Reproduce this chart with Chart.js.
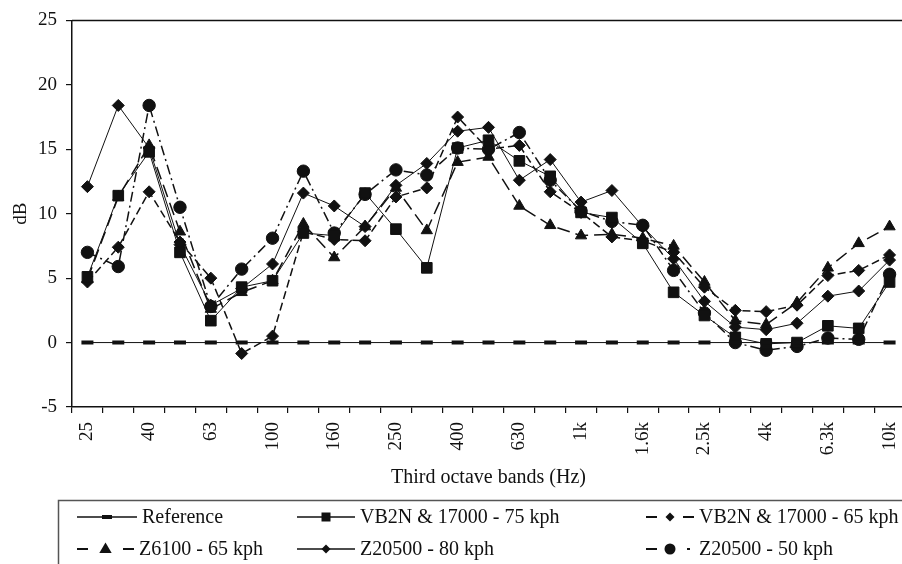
<!DOCTYPE html>
<html>
<head>
<meta charset="utf-8">
<script src="https://cdn.jsdelivr.net/npm/chart.js@4/dist/chart.umd.min.js"></script>
<style>
html,body{margin:0;padding:0;background:#fff;overflow:hidden;width:902px;height:564px;}
canvas{display:block;}
</style>
</head>
<body>
<canvas id="c" width="915" height="564"></canvas>
<script>
// ---- data ----
const bands = ['25','31.5','40','50','63','80','100','125','160','200','250','315','400','500','630','800','1k','1.25k','1.6k','2k','2.5k','3.15k','4k','5k','6.3k','8k','10k'];
const tickLabels = ['25','','40','','63','','100','','160','','250','','400','','630','','1k','','1.6k','','2.5k','','4k','','6.3k','','10k'];
const yTicks = [-5, 0, 5, 10, 15, 20, 25];

const seriesNames = ['Reference','VB2N & 17000 - 75 kph','VB2N & 17000 - 65 kph','Z6100 - 65 kph','Z20500 - 80 kph','Z20500 - 50 kph'];

const reference = [0,0,0,0,0,0,0,0,0,0,0,0,0,0,0,0,0,0,0,0,0,0,0,0,0,0,0];
const vb2n75 = [5.1,11.4,14.8,7.0,1.7,4.3,4.8,8.5,8.3,11.6,8.8,5.8,15.1,15.7,14.1,12.9,10.1,9.7,7.7,3.9,2.1,0.4,-0.1,0.0,1.3,1.1,4.7];
const vb2n65 = [4.7,7.4,11.7,7.8,5.0,-0.85,0.5,8.6,8.0,7.9,11.3,12.0,17.5,15.0,15.3,11.7,10.1,8.2,7.9,7.0,4.3,2.5,2.4,2.9,5.2,5.6,6.8];
const z6100_65 = [4.9,11.3,15.3,8.6,2.6,3.9,4.8,9.2,6.6,9.0,12.0,8.7,14.0,14.4,10.6,9.1,8.3,8.4,8.1,7.5,4.7,1.7,1.4,3.1,5.8,7.7,9.0];
const z20500_80 = [12.1,18.4,15.1,7.6,2.9,4.2,6.1,11.6,10.6,9.0,12.2,13.9,16.4,16.7,12.6,14.2,10.9,11.8,9.0,6.5,3.2,1.2,1.0,1.5,3.6,4.0,6.4];
const z20500_50 = [7.0,5.9,18.4,10.5,2.8,5.7,8.1,13.3,8.5,11.5,13.4,13.0,15.1,15.0,16.3,12.6,10.2,9.4,9.1,5.6,2.3,0.0,-0.6,-0.3,0.35,0.25,5.3];

// ---- styles ----
const FONT = "'Liberation Serif','Times New Roman',serif";
const INK = '#111';

function ds(label, data, style, radius, width, dash, ptBorder, legendKind) {
  return {
    label, data,
    borderColor: INK, backgroundColor: INK,
    borderWidth: width, borderDash: dash,
    pointStyle: style, pointRadius: radius, pointHoverRadius: radius,
    pointBackgroundColor: INK, pointBorderColor: INK, pointBorderWidth: ptBorder,
    tension: 0, fill: false,
    legendKind
  };
}

const datasets = [
  ds(seriesNames[0], reference, 'line', 6, 1, [], 4, 'solid'),
  ds(seriesNames[1], vb2n75, 'rect', 7.5, 1, [], 1, 'solid'),
  ds(seriesNames[2], vb2n65, 'rectRot', 6, 1.5, [8,4], 1, 'dash'),
  ds(seriesNames[3], z6100_65, 'triangle', 6.5, 1.5, [13,6], 1, 'dash'),
  ds(seriesNames[4], z20500_80, 'rectRot', 6, 1, [], 1, 'solid'),
  ds(seriesNames[5], z20500_50, 'circle', 6.2, 1.5, [10,4,2,4], 1, 'dashdot')
];

function drawMarker(ctx, style, x, y, r) {
  ctx.beginPath();
  if (style === 'rect') {
    ctx.rect(x - r, y - r, 2 * r, 2 * r); ctx.fill();
  } else if (style === 'rectRot') {
    ctx.moveTo(x - r, y); ctx.lineTo(x, y - r); ctx.lineTo(x + r, y); ctx.lineTo(x, y + r); ctx.closePath(); ctx.fill();
  } else if (style === 'triangle') {
    ctx.moveTo(x, y - r); ctx.lineTo(x + r * 0.95, y + r * 0.6); ctx.lineTo(x - r * 0.95, y + r * 0.6); ctx.closePath(); ctx.fill();
  } else if (style === 'circle') {
    ctx.arc(x, y, r, 0, Math.PI * 2); ctx.fill();
  } else if (style === 'line') {
    ctx.lineWidth = 4; ctx.moveTo(x - r, y); ctx.lineTo(x + r, y); ctx.stroke();
  }
}

const legendSizes = {rect: 4.5, rectRot: 4.5, triangle: 6.5, circle: 5.5, line: 5};

const frameAndLegend = {
  id: 'frameAndLegend',
  afterDraw(chart) {
    const ctx = chart.ctx, ca = chart.chartArea;
    ctx.save();
    // top frame line of plot area
    ctx.strokeStyle = INK; ctx.lineWidth = 1.5;
    ctx.beginPath(); ctx.moveTo(ca.left, ca.top); ctx.lineTo(ca.right + 2, ca.top); ctx.stroke();
    // legend box (right and bottom edges fall outside the picture)
    ctx.strokeStyle = '#555'; ctx.lineWidth = 1.5;
    ctx.strokeRect(58.5, 500.5, 900, 120);
    const slots = [[77,517,60],[297,517,58],[646,517,48],[77,549,57],[297,549,58],[646,549,48]];
    chart.data.datasets.forEach((d, i) => {
      const [x, y, W] = slots[i];
      ctx.save();
      ctx.strokeStyle = INK; ctx.fillStyle = INK; ctx.lineWidth = 1.3;
      ctx.beginPath();
      if (d.legendKind === 'solid') {
        ctx.moveTo(x, y); ctx.lineTo(x + W, y);
      } else if (d.legendKind === 'dash') {
        ctx.lineWidth = 1.8;
        ctx.moveTo(x, y); ctx.lineTo(x + 11, y);
        ctx.moveTo(x + W - 11, y); ctx.lineTo(x + W, y);
      } else {
        ctx.lineWidth = 1.8;
        ctx.moveTo(x, y); ctx.lineTo(x + 11, y);
        ctx.moveTo(x + W - 7, y); ctx.lineTo(x + W - 4, y);
      }
      ctx.stroke();
      drawMarker(ctx, d.pointStyle, x + W / 2, y, legendSizes[d.pointStyle]);
      ctx.restore();
      ctx.fillStyle = INK;
      ctx.font = '20px ' + FONT;
      ctx.textBaseline = 'middle';
      ctx.textAlign = 'left';
      ctx.fillText(d.label, x + W + 5, y + 1);
    });
    ctx.restore();
  }
};

new Chart(document.getElementById('c'), {
  type: 'line',
  data: { labels: bands, datasets },
  plugins: [frameAndLegend],
  options: {
    responsive: false,
    animation: false,
    devicePixelRatio: 1,
    layout: { padding: { top: 18, right: 1, bottom: 69, left: 0 } },
    plugins: { legend: { display: false }, tooltip: { enabled: false } },
    scales: {
      x: {
        type: 'category',
        offset: true,
        afterFit(scale) { scale.height = 88; scale.paddingLeft = 0; scale.paddingRight = 0; },
        grid: { offset: true, drawOnChartArea: false, drawTicks: true, tickLength: 6, color: INK, lineWidth: 1.2 },
        border: { display: true, color: INK, width: 1.5 },
        ticks: {
          autoSkip: false, minRotation: 90, maxRotation: 90, padding: 9,
          color: INK, font: { family: FONT, size: 19 },
          callback: (v, i) => tickLabels[i]
        },
        title: { display: true, text: 'Third octave bands (Hz)', color: INK, font: { family: FONT, size: 20 }, padding: { top: 0, bottom: 5 } }
      },
      y: {
        min: yTicks[0], max: yTicks[yTicks.length - 1],
        afterFit(scale) { scale.width = 72; },
        afterBuildTicks(scale) { scale.ticks = yTicks.map(v => ({ value: v })); },
        grid: { drawOnChartArea: false, drawTicks: true, tickLength: 6, color: INK, lineWidth: 1.2 },
        border: { display: true, color: INK, width: 1.5 },
        ticks: { padding: 9, color: INK, font: { family: FONT, size: 19 } },
        title: { display: true, text: 'dB', color: INK, font: { family: FONT, size: 19 }, padding: { top: 10, bottom: 0 } }
      }
    }
  }
});
</script>
</body>
</html>
